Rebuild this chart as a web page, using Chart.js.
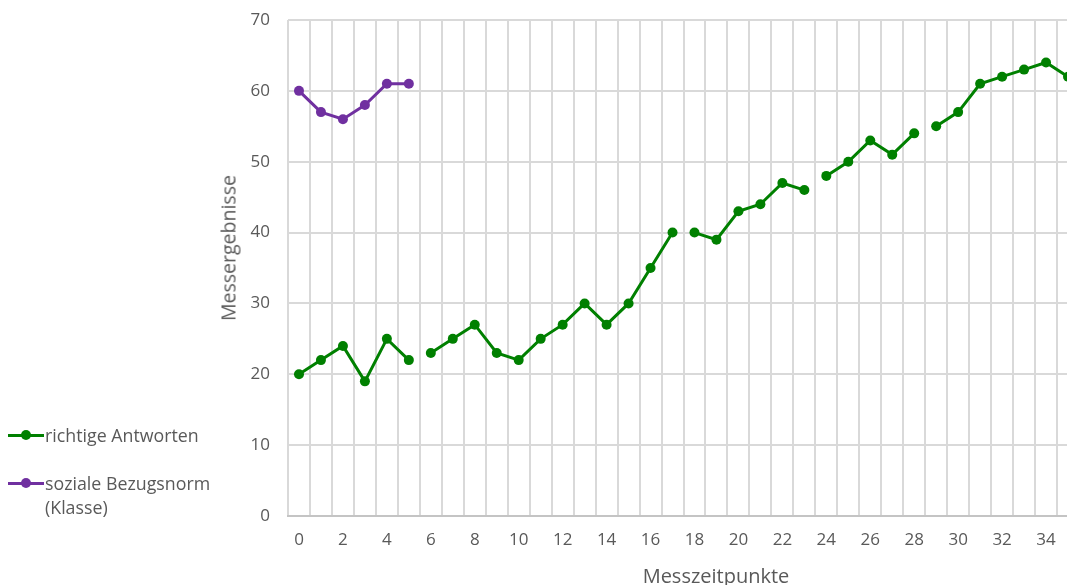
<!DOCTYPE html>
<html>
<head>
<meta charset="utf-8">
<script src="https://cdn.jsdelivr.net/npm/chart.js@4"></script>
<style>
  html, body { margin: 0; padding: 0; background: #fff; overflow: hidden; width: 1067px; height: 585px; }
  #wrap { position: absolute; left: 0; top: 0; width: 1100px; height: 585px; }
  #c { display: block; }
  .txt { position: absolute; font-family: "Open Sans", sans-serif; color: #595959; white-space: nowrap; }
  #xtitle { left: 716px; top: 575px; transform: translate(-50%, -50%); font-size: 20px; }
  #ytitle { left: 228px; top: 248px; transform: translate(-50%, -50%) rotate(-90deg); font-size: 19.5px; }
  .leg { position: absolute; left: 8px; font-family: "Open Sans", sans-serif; font-size: 17.8px; color: #595959; line-height: 24px; }
  .leg .sample { position: absolute; left: 0; width: 36px; height: 3px; top: 11px; }
  .leg .dot { position: absolute; left: 13px; top: 7px; width: 10px; height: 10px; border-radius: 50%; }
  .leg .label { margin-left: 37px; }
</style>
</head>
<body>
<div id="wrap"><canvas id="c" width="1100" height="585"></canvas></div>
<div id="ytitle" class="txt">Messergebnisse</div>
<div id="xtitle" class="txt">Messzeitpunkte</div>
<div class="leg" style="top:423px;">
  <div class="sample" style="background:#008000"></div><div class="dot" style="background:#008000"></div>
  <div class="label">richtige Antworten</div>
</div>
<div class="leg" style="top:471px;">
  <div class="sample" style="background:#7030A0"></div><div class="dot" style="background:#7030A0"></div>
  <div class="label">soziale Bezugsnorm<br>(Klasse)</div>
</div>
<script>
const categories = [0,1,2,3,4,5,6,7,8,9,10,11,12,13,14,15,16,17,18,19,20,21,22,23,24,25,26,27,28,29,30,31,32,33,34,35];
const richtigeAntworten = [20,22,24,19,25,22,23,25,27,23,22,25,27,30,27,30,35,40,40,39,43,44,47,46,48,50,53,51,54,55,57,61,62,63,64,62];
const sozialeBezugsnorm = [60,57,56,58,61,61];
const greenBreaksAfter = [5,17,23,28];
const yTicks = [0,10,20,30,40,50,60,70];

const GREEN = '#008000';
const PURPLE = '#7030A0';
const FONT = '"Open Sans", sans-serif';

new Chart(document.getElementById('c'), {
  type: 'line',
  data: {
    labels: categories,
    datasets: [
      {
        label: 'richtige Antworten',
        data: richtigeAntworten,
        borderColor: GREEN,
        backgroundColor: GREEN,
        borderWidth: 3,
        pointRadius: 5,
        pointHoverRadius: 5,
        pointBorderWidth: 0,
        tension: 0,
        segment: {
          borderColor: ctx => greenBreaksAfter.includes(ctx.p0DataIndex) ? 'rgba(0,0,0,0)' : GREEN
        }
      },
      {
        label: 'soziale Bezugsnorm (Klasse)',
        data: sozialeBezugsnorm,
        borderColor: PURPLE,
        backgroundColor: PURPLE,
        borderWidth: 3,
        pointRadius: 5,
        pointHoverRadius: 5,
        pointBorderWidth: 0,
        tension: 0
      }
    ]
  },
  options: {
    responsive: false,
    animation: false,
    layout: { padding: { left: 0, right: 21, top: 20, bottom: 0 } },
    plugins: { legend: { display: false }, tooltip: { enabled: false } },
    scales: {
      x: {
        type: 'category',
        offset: true,
        grid: { offset: true, color: '#d9d9d9', lineWidth: 2, drawTicks: false },
        border: { color: '#c4c4c4', width: 2 },
        ticks: {
          autoSkip: false, maxRotation: 0, padding: 14,
          color: '#595959', font: { family: FONT, size: 17 },
          callback: (v, i) => i % 2 === 0 ? String(categories[i]) : ''
        },
        afterFit: s => { s.height = 69; }
      },
      y: {
        min: 0, max: 70,
        afterBuildTicks: s => { s.ticks = yTicks.map(v => ({ value: v })); },
        grid: { color: '#d9d9d9', lineWidth: 2, drawTicks: false },
        border: { display: false },
        ticks: { padding: 18, color: '#595959', font: { family: FONT, size: 17 } },
        afterFit: s => { s.width = 288; s.paddingTop = 0; s.paddingBottom = 0; }
      }
    }
  }
});
</script>
</body>
</html>
